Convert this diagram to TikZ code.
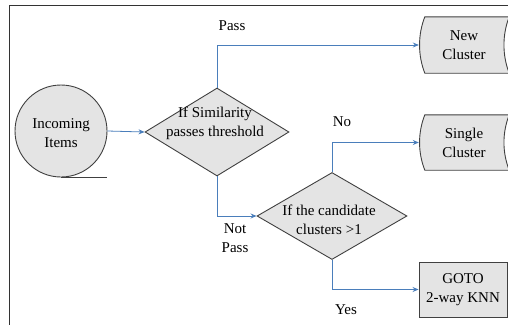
\documentclass[tikz,border=0pt]{standalone}
\usepackage{fontspec}
\setmainfont{Liberation Serif}
\newfontfamily\diagfont{Liberation Serif}
\usetikzlibrary{shapes.geometric,arrows.meta,calc,backgrounds}

\definecolor{shapefill}{RGB}{228,228,228}
\definecolor{shapeedge}{RGB}{64,64,64}
\definecolor{flowblue}{RGB}{74,126,187}

% stored data outline drawn behind a named node
\newcommand{\storedshape}[1]{%
    \begin{scope}[on background layer]
        \draw[shapeline]
            ($(#1.north west)+(6,0)$) -- (#1.north east)
            .. controls ($(#1.north east)+(-7,18)$) and ($(#1.south east)+(-7,-18)$) .. (#1.south east)
            -- ($(#1.south west)+(6,0)$)
            .. controls ($(#1.south west)+(-1,-18)$) and ($(#1.north west)+(-1,18)$) .. ($(#1.north west)+(6,0)$)
            -- cycle;
    \end{scope}}

\begin{document}
\begin{tikzpicture}[x=1pt, y=-1pt,
    shapeline/.style={draw=shapeedge, line width=0.9pt, fill=shapefill},
    txt/.style={font=\diagfont\fontsize{15}{19}\selectfont, align=center, inner sep=0pt},
    decision/.style={diamond, shapeline, inner sep=0pt},
    storebox/.style={rectangle, txt, minimum width=90pt},
    flow/.style={draw=flowblue, line width=0.8pt, -{Stealth[length=6pt, width=5pt]}}]
    \useasboundingbox (0,0) rectangle (508,324);

    % Frame
    \draw[draw=black!80, line width=1pt] (9,330) -- (9,5) -- (515,5);

    % Incoming items
    \node[circle, shapeline, minimum size=92pt, inner sep=0pt] (items) at (61,131) {};
    \node[txt] (itemstext) at (61,133) {Incoming\\Items};
    \draw[draw=shapeedge, line width=0.9pt] (items.south) -- (items.south -| items.east);

    % Decisions
    \node[decision, minimum width=144pt, minimum height=88pt] (sim) at (217,132) {};
    \node[txt] (simtext) at (215,123) {If Similarity\\passes threshold};
    \node[decision, minimum width=150pt, minimum height=87pt] (cand) at (332,216) {};
    \node[txt] (candtext) at (329,220) {If the candidate\\clusters >1};

    % Results
    \node[storebox, minimum height=56pt] (newc) at (464,45) {New\\Cluster};
    \storedshape{newc}
    \node[storebox, minimum height=55pt] (single) at (464,142.5) {Single\\Cluster};
    \storedshape{single}
    \node[rectangle, shapeline, txt, minimum width=88pt, minimum height=55pt] (knn) at (463,289.5) {GOTO\\2-way KNN};

    % Connectors
    \draw[flow] (items.east) -- (sim.west);
    \draw[flow] (sim.north) |- (newc.west);
    \draw[flow] (sim.south) |- (cand.west);
    \draw[flow] (cand.north) |- (single.west);
    \draw[flow] (cand.south) |- (knn.west);

    % Labels
    \node[txt] (lblpass) at (232,26) {Pass};
    \node[txt] (lblnotpass) at (235,238) {Not\\Pass};
    \node[txt] (lblno) at (342,122) {No};
    \node[txt] (lblyes) at (346,310) {Yes};
\end{tikzpicture}
\end{document}
